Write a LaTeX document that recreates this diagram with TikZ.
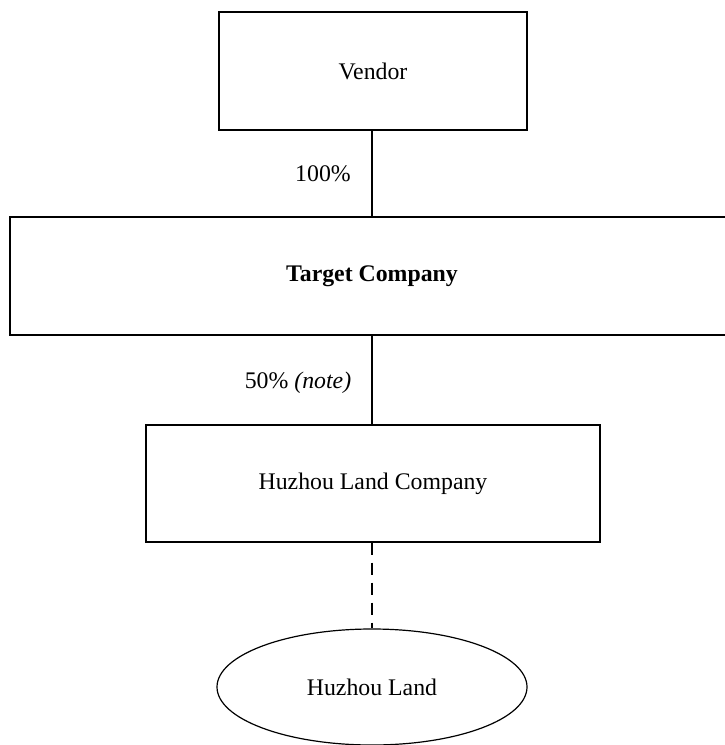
\documentclass[tikz,border=0pt]{standalone}
\usepackage{fontspec}
\setmainfont{Liberation Serif}
\usetikzlibrary{shapes.geometric}
\begin{document}
\begin{tikzpicture}[x=1pt,y=-1pt,
  box/.style={draw, line width=1.2pt, rectangle, inner sep=0pt},
  lbl/.style={inner sep=0pt},
  conn/.style={line width=1.2pt},
  font=\fontsize{23.8}{28}\selectfont]
\useasboundingbox (0,0) rectangle (725,745);
\node[box, minimum width=308pt, minimum height=118pt] (vendor) at (373,71) {Vendor};
\node[box, minimum width=724pt, minimum height=118pt] (target) at (372,276) {\bfseries Target Company};
\node[box, minimum width=454pt, minimum height=117pt] (hlc) at (373,483.5) {Huzhou Land Company};
\node[draw, line width=1.2pt, ellipse, inner sep=0pt, minimum width=310pt, minimum height=116pt] (land) at (372,687) {Huzhou Land};
\draw[conn] (vendor.south -| 372,0) -- (target.north -| 372,0);
\draw[conn] (target.south -| 372,0) -- (hlc.north -| 372,0);
\draw[conn, dash pattern=on 12pt off 8pt] (hlc.south -| 372,0) -- (land.north);
\node[lbl] (l1) at (323,174) {100\%};
\node[lbl] (l2) at (298,383) {50\% \textit{(note)}};
\end{tikzpicture}
\end{document}
